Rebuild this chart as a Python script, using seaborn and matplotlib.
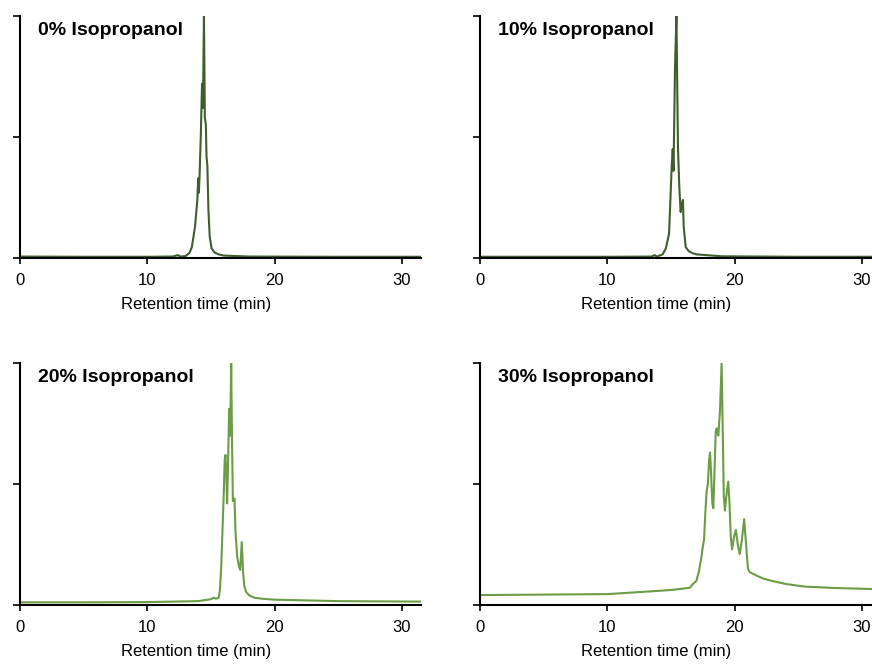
import numpy as np
import pandas as pd
import seaborn as sns
import matplotlib.pyplot as plt

# chromatograms (time in min, signal normalised to panel top)
t_0 = [0, 5, 10, 12.0, 12.4, 12.6, 13.0, 13.3, 13.5, 13.75, 13.93, 14.0, 14.05, 14.1, 14.2,
       14.3, 14.37, 14.45, 14.52, 14.6, 14.65, 14.72, 14.8, 14.9, 15.05, 15.3, 15.6, 16, 18, 25, 31.5]
y_0 = [0.006, 0.005, 0.005, 0.006, 0.012, 0.006, 0.008, 0.02, 0.045, 0.13, 0.24, 0.33, 0.27, 0.33, 0.5,
       0.72, 0.62, 1.0, 0.58, 0.55, 0.42, 0.38, 0.2, 0.09, 0.04, 0.022, 0.015, 0.01, 0.006, 0.005, 0.005]

t_10 = [0, 5, 10, 13.5, 13.7, 13.9, 14.35, 14.6, 14.85, 15.06, 15.14, 15.2, 15.32, 15.43,
        15.55, 15.65, 15.76, 15.85, 15.94, 16.0, 16.16, 16.4, 16.7, 17, 19, 25, 31.5]
y_10 = [0.005, 0.005, 0.005, 0.006, 0.012, 0.006, 0.015, 0.04, 0.1, 0.38, 0.45, 0.36, 0.79, 1.0,
        0.46, 0.3, 0.19, 0.22, 0.24, 0.13, 0.045, 0.028, 0.02, 0.015, 0.007, 0.005, 0.005]

t_20 = [0, 5, 10, 14, 15, 15.2, 15.4, 15.6, 15.7, 15.8, 15.9, 16.0, 16.08, 16.14, 16.2, 16.27,
        16.35, 16.43, 16.5, 16.55, 16.59, 16.65, 16.72, 16.85, 16.93, 17.06, 17.2, 17.3, 17.42,
        17.53, 17.62, 17.75, 18.0, 18.4, 19, 20, 25, 31.5]
y_20 = [0.011, 0.011, 0.012, 0.016, 0.024, 0.03, 0.026, 0.03, 0.06, 0.15, 0.3, 0.45, 0.6, 0.62, 0.55, 0.42,
        0.6, 0.81, 0.7, 0.85, 1.0, 0.7, 0.43, 0.44, 0.3, 0.2, 0.16, 0.145, 0.26,
        0.13, 0.08, 0.055, 0.04, 0.03, 0.026, 0.022, 0.016, 0.014]

t_30 = [0, 5, 10, 13, 15, 16, 16.3, 16.5, 16.7, 17.0, 17.2, 17.4, 17.5, 17.6, 17.7, 17.8, 17.9,
        18.0, 18.07, 18.15, 18.25, 18.33, 18.42, 18.52, 18.6, 18.72, 18.85, 18.98, 19.06, 19.15,
        19.24, 19.35, 19.5, 19.6, 19.7, 19.8, 19.95, 20.1, 20.25, 20.4, 20.55, 20.75, 20.9, 21.05,
        21.2, 21.6, 22.2, 22.9, 24, 25.5, 28, 31.5]
y_30 = [0.041, 0.043, 0.045, 0.055, 0.062, 0.068, 0.07, 0.072, 0.085, 0.1, 0.14, 0.2, 0.24, 0.27, 0.38,
        0.47, 0.5, 0.6, 0.63, 0.55, 0.42, 0.4, 0.55, 0.72, 0.73, 0.7, 0.8, 1.0, 0.75, 0.45,
        0.39, 0.45, 0.51, 0.42, 0.28, 0.23, 0.28, 0.31, 0.25, 0.21, 0.26, 0.355, 0.25, 0.15,
        0.135, 0.125, 0.11, 0.1, 0.087, 0.076, 0.07, 0.065]

labels = ["0% Isopropanol", "10% Isopropanol", "20% Isopropanol", "30% Isopropanol"]
series = [(t_0, y_0), (t_10, y_10), (t_20, y_20), (t_30, y_30)]
colors = ["#3e5f2c", "#3e5f2c", "#6b9c46", "#6b9c46"]

sns.set_style("ticks")
plt.rcParams['font.family'] = ['Liberation Sans', 'DejaVu Sans']
plt.rcParams['text.color'] = 'black'
plt.rcParams['axes.labelcolor'] = 'black'

fig = plt.figure(figsize=(8.72, 6.64), dpi=100)
w = 401 / 872
h = 242 / 664
positions = [(20 / 872, 406 / 664), (480 / 872, 406 / 664),
             (20 / 872, 59 / 664), (480 / 872, 59 / 664)]

for (x0, y0), lab, (t, y), c in zip(positions, labels, series, colors):
    ax = fig.add_axes([x0, y0, w, h])
    df = pd.DataFrame({"time": t, "signal": y})
    sns.lineplot(data=df, x="time", y="signal", color=c, linewidth=1.5, ax=ax)
    ax.set_xlim(0, 31.5)
    ax.set_ylim(0, 1)
    ax.set_xticks([0, 10, 20, 30])
    ax.set_yticks([0, 0.5, 1])
    ax.set_yticklabels([])
    ax.tick_params(axis='x', labelsize=12, length=4, width=1.2, colors='black', pad=7)
    ax.tick_params(axis='y', length=5, width=1.2, colors='black')
    ax.set_ylabel("")
    ax.set_xlabel("Retention time (min)", fontsize=12, labelpad=6, color='black')
    ax.xaxis.label.set_x(0.44)
    for s in ["left", "bottom"]:
        ax.spines[s].set_linewidth(1.5)
        ax.spines[s].set_color("black")
    sns.despine(ax=ax)
    ax.text(0.045, 0.94, lab, transform=ax.transAxes, fontsize=14, fontweight="bold",
            va="center", ha="left", color='black')

fig.savefig("out.png", dpi=100)
